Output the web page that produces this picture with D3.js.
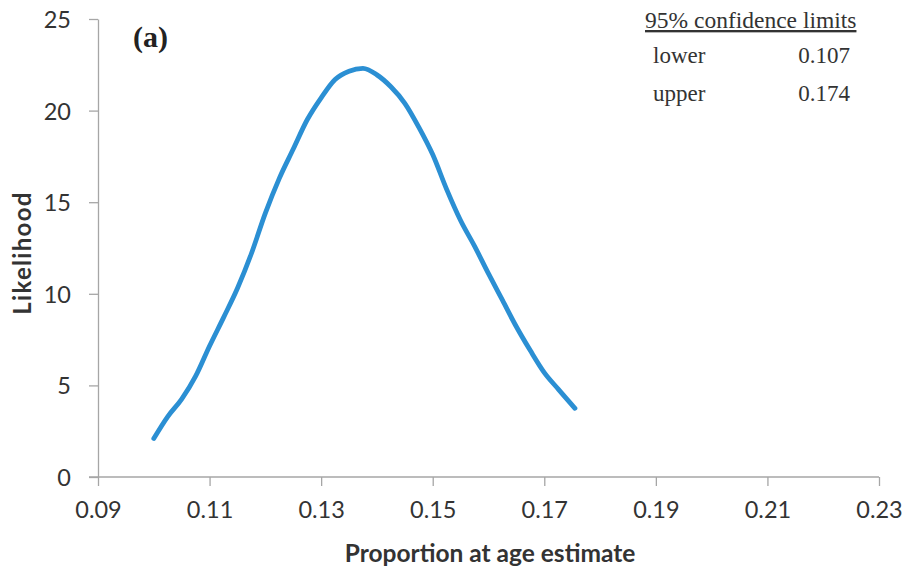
<!DOCTYPE html>
<head>
<meta charset="utf-8">
<script src="https://d3js.org/d3.v7.min.js"></script>
</head>
<body style="margin:0;background:#fff">
<style>
  .tick text { font-family: Lato, "Open Sans", sans-serif; font-size: 23.5px; fill: #333; }
  .axis path, .axis line { stroke: #a6a6a6; stroke-width: 1.3; }
</style>
<div id="viz"></div>
<script>

// proportion at age estimate vs likelihood
var proportion = [0.100, 0.1025, 0.105, 0.1075, 0.110, 0.1125, 0.115, 0.1175, 0.120, 0.1225,
                  0.125, 0.1275, 0.130, 0.1325, 0.135, 0.1375, 0.140, 0.1425, 0.145, 0.1475,
                  0.150, 0.1525, 0.155, 0.1575, 0.160, 0.1625, 0.165, 0.1675, 0.170, 0.1725, 0.1755];
var likelihood = [2.1, 3.3, 4.25, 5.5, 7.15, 8.7, 10.3, 12.2, 14.4, 16.3,
                  17.9, 19.5, 20.7, 21.7, 22.15, 22.3, 21.95, 21.3, 20.4, 19.1,
                  17.6, 15.7, 14.0, 12.6, 11.1, 9.65, 8.2, 6.9, 5.7, 4.8, 3.75];
var xTicks = [0.09, 0.11, 0.13, 0.15, 0.17, 0.19, 0.21, 0.23];
var yTicks = [0, 5, 10, 15, 20, 25];
var limitLabels = ["lower", "upper"];
var limitValues = ["0.107", "0.174"];

var margin = {top: 19, right: 27, bottom: 99, left: 98},
    width = 906 - margin.left - margin.right,
    height = 576 - margin.top - margin.bottom;

var root = d3.select("#viz")
  .append("svg")
    .attr("width", 906)
    .attr("height", 576);
var svg = root.append("g")
    .attr("transform", "translate(" + margin.left + "," + margin.top + ")");

var data = proportion.map(function(p, i) { return {p: p, l: likelihood[i]}; });

var x = d3.scaleLinear().domain([0.09, 0.23]).range([0, width]);
var y = d3.scaleLinear().domain([0, 25]).range([height, 0]);

svg.append("g")
  .attr("class", "axis")
  .attr("transform", "translate(0," + height + ")")
  .call(d3.axisBottom(x).tickValues(xTicks).tickFormat(d3.format(".2f")).tickSizeInner(9).tickSizeOuter(0))
  .call(function(g) { g.selectAll(".tick text").attr("dy", "1.22em"); })
  .call(function(g) { g.select(".domain").attr("d", "M-9,0H" + width); });

svg.append("g")
  .attr("class", "axis")
  .call(d3.axisLeft(y).tickValues(yTicks).tickSizeInner(9).tickSizeOuter(0).tickPadding(18))
  .call(function(g) { g.selectAll(".tick text").attr("dy", "0.36em"); });

svg.append("path")
  .datum(data)
  .attr("fill", "none")
  .attr("stroke", "#2b8fd3")
  .attr("stroke-width", 4.8)
  .attr("stroke-linecap", "round")
  .attr("stroke-linejoin", "round")
  .attr("d", d3.line()
    .curve(d3.curveMonotoneX)
    .x(function(d) { return x(d.p); })
    .y(function(d) { return y(d.l); }));

// axis titles
root.append("text")
  .attr("x", 490)
  .attr("y", 562)
  .attr("text-anchor", "middle")
  .style("font-family", "Lato, sans-serif")
  .style("font-weight", "bold")
  .style("font-size", "24.5px")
  .style("fill", "#333")
  .text("Proportion at age estimate");

root.append("text")
  .attr("transform", "translate(31,253) rotate(-90)")
  .attr("text-anchor", "middle")
  .style("font-family", "Lato, sans-serif")
  .style("font-weight", "bold")
  .style("font-size", "24px")
  .style("letter-spacing", "1.3px")
  .style("fill", "#333")
  .text("Likelihood");

// panel letter
root.append("text")
  .attr("x", 133)
  .attr("y", 47)
  .style("font-family", "'Liberation Serif', 'Times New Roman', serif")
  .style("font-weight", "bold")
  .style("font-size", "30px")
  .style("fill", "#222")
  .text("(a)");

// confidence limits box
root.append("text")
  .attr("x", 645)
  .attr("y", 28)
  .style("font-family", "'Liberation Serif', serif")
  .style("font-size", "23.5px")
  .style("fill", "#333")
  .style("text-decoration", "underline")
  .text("95% confidence limits");

root.selectAll(".limLab")
  .data(limitLabels)
  .enter().append("text")
  .attr("x", 653)
  .attr("y", function(d, i) { return 63 + i * 38; })
  .style("font-family", "'Liberation Serif', serif")
  .style("font-size", "23px")
  .style("fill", "#333")
  .text(function(d) { return d; });

root.selectAll(".limVal")
  .data(limitValues)
  .enter().append("text")
  .attr("x", 850)
  .attr("y", function(d, i) { return 63 + i * 38; })
  .attr("text-anchor", "end")
  .style("font-family", "'Liberation Serif', serif")
  .style("font-size", "23px")
  .style("fill", "#333")
  .text(function(d) { return d; });

</script>
</body>
